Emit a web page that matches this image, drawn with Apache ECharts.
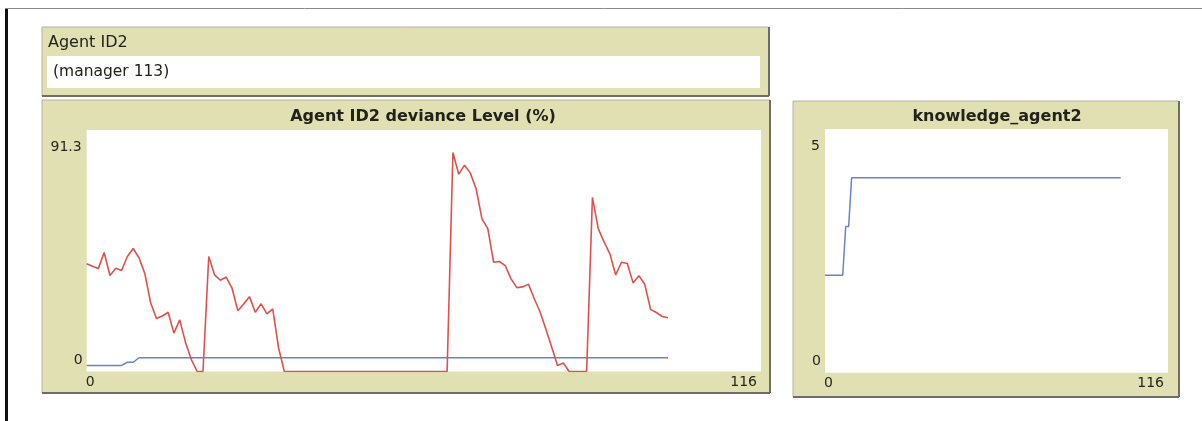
<!DOCTYPE html>
<html>
<head>
<meta charset="utf-8">
<script src="https://cdn.jsdelivr.net/npm/echarts@6/dist/echarts.min.js"></script>
<style>
html, body { margin: 0; padding: 0; background: #fff; }
#main { width: 1202px; height: 421px; }
</style>
</head>
<body>
<div id="main"></div>
<script>
// monitor
var monitorLabel = "Agent ID2";
var monitorValue = "(manager 113)";

// plot titles
var title1 = "Agent ID2 deviance Level (%)";
var title2 = "knowledge_agent2";

// axis ranges / tick labels
var xTicks = [0, 116];
var yTicks1 = [0, 91.3];
var yTicks2 = [0, 5];

// deviance level, ticks 0..100 (red)
var deviance = [
  40.7, 39.8, 38.9, 45.0, 36.3, 39.0, 38.2, 43.5, 46.5, 43.0,
  37.0, 26.0, 20.0, 21.0, 22.4, 14.5, 19.5, 11.0, 4.5, 0,
  0, 43.5, 36.5, 34.5, 35.7, 31.5, 23.0, 25.5, 28.3, 22.4,
  25.6, 21.8, 23.7, 9.0, 0, 0, 0, 0, 0, 0,
  0, 0, 0, 0, 0, 0, 0, 0, 0, 0,
  0, 0, 0, 0, 0, 0, 0, 0, 0, 0,
  0, 0, 0, 82.8, 74.6, 78.0, 75.0, 69.0, 57.7, 54.0,
  41.3, 41.6, 40.0, 35.0, 31.7, 32.0, 33.0, 27.5, 22.5, 16.0,
  9.2, 2.3, 3.2, 0, 0, 0, 0, 65.8, 54.0, 49.0,
  44.5, 36.5, 41.3, 40.8, 33.5, 36.2, 33.0, 23.5, 22.3, 20.8,
  20.3
];

// second pen in deviance plot (blue)
var devianceKnow = [
  2.3, 2.3, 2.3, 2.3, 2.3, 2.3, 2.3, 3.5, 3.5, 5.2,
  5.2, 5.2, 5.2, 5.2, 5.2, 5.2, 5.2, 5.2, 5.2, 5.2,
  5.2, 5.2, 5.2, 5.2, 5.2, 5.2, 5.2, 5.2, 5.2, 5.2,
  5.2, 5.2, 5.2, 5.2, 5.2, 5.2, 5.2, 5.2, 5.2, 5.2,
  5.2, 5.2, 5.2, 5.2, 5.2, 5.2, 5.2, 5.2, 5.2, 5.2,
  5.2, 5.2, 5.2, 5.2, 5.2, 5.2, 5.2, 5.2, 5.2, 5.2,
  5.2, 5.2, 5.2, 5.2, 5.2, 5.2, 5.2, 5.2, 5.2, 5.2,
  5.2, 5.2, 5.2, 5.2, 5.2, 5.2, 5.2, 5.2, 5.2, 5.2,
  5.2, 5.2, 5.2, 5.2, 5.2, 5.2, 5.2, 5.2, 5.2, 5.2,
  5.2, 5.2, 5.2, 5.2, 5.2, 5.2, 5.2, 5.2, 5.2, 5.2,
  5.2
];

// knowledge_agent2
var knowledge = [
  2, 2, 2, 2, 2, 2, 2, 3, 3, 4,
  4, 4, 4, 4, 4, 4, 4, 4, 4, 4,
  4, 4, 4, 4, 4, 4, 4, 4, 4, 4,
  4, 4, 4, 4, 4, 4, 4, 4, 4, 4,
  4, 4, 4, 4, 4, 4, 4, 4, 4, 4,
  4, 4, 4, 4, 4, 4, 4, 4, 4, 4,
  4, 4, 4, 4, 4, 4, 4, 4, 4, 4,
  4, 4, 4, 4, 4, 4, 4, 4, 4, 4,
  4, 4, 4, 4, 4, 4, 4, 4, 4, 4,
  4, 4, 4, 4, 4, 4, 4, 4, 4, 4,
  4
];

function pairs(arr) {
  return arr.map(function (v, i) { return [i, v]; });
}

var khaki = "#e0e0b3";
var txt = "#22221a";
var numFont = "14px 'DejaVu Sans'";

// box with bevel (light top/left, dark bottom/right)
function box(id, x, y, w, h) {
  return [
    { type: "rect", id: id, shape: { x: x, y: y, width: w, height: h },
      style: { fill: khaki, stroke: "#b4b4a4", lineWidth: 1 } },
    { type: "line", id: id + "_b", shape: { x1: x, y1: y + h, x2: x + w, y2: y + h },
      style: { stroke: "#6e6e66", lineWidth: 2 } },
    { type: "line", id: id + "_r", shape: { x1: x + w, y1: y, x2: x + w, y2: y + h },
      style: { stroke: "#6e6e66", lineWidth: 2 } }
  ];
}

var myChart = echarts.init(document.getElementById("main"));

var graphics = []
  .concat([
    { type: "rect", id: "frameL", shape: { x: 5, y: 8, width: 3, height: 413 }, style: { fill: "#111" } },
    { type: "line", id: "frameT", shape: { x1: 5, y1: 8.5, x2: 1202, y2: 8.5 }, style: { stroke: "#8a8a8a", lineWidth: 1 } }
  ])
  .concat(box("mon", 42, 27, 727, 69))
  .concat([
    { type: "rect", id: "monField", shape: { x: 47, y: 56, width: 713, height: 32 }, style: { fill: "#fff" } },
    { type: "text", id: "monLabel", x: 48, y: 43, style: { text: monitorLabel, font: "16px 'DejaVu Sans'", fill: txt, verticalAlign: "middle" } },
    { type: "text", id: "monValue", x: 53, y: 72, style: { text: monitorValue, font: "15.5px 'DejaVu Sans'", fill: txt, verticalAlign: "middle" } }
  ])
  .concat(box("p1", 42, 100, 728, 293))
  .concat(box("p2", 793, 101, 386, 296))
  .concat([
    { type: "rect", id: "p1bg", shape: { x: 86.7, y: 130, width: 674.3, height: 241.5 }, style: { fill: "#fff" } },
    { type: "rect", id: "p2bg", shape: { x: 825, y: 129, width: 343, height: 243.7 }, style: { fill: "#fff" } },
    { type: "text", id: "t1", x: 423, y: 117, style: { text: title1, font: "bold 16px 'DejaVu Sans'", fill: txt, align: "center", verticalAlign: "middle" } },
    { type: "text", id: "t2", x: 997, y: 117, style: { text: title2, font: "bold 16px 'DejaVu Sans'", fill: txt, align: "center", verticalAlign: "middle" } }
  ]);

var option = {
  backgroundColor: "#fff",
  animation: false,
  graphic: { elements: graphics },
  grid: [
    { left: 86.7, top: 130, width: 674.3, height: 241.5, show: false },
    { left: 825, top: 129, width: 343, height: 243.7, show: false }
  ],
  xAxis: [
    { type: "value", gridIndex: 0, min: xTicks[0], max: xTicks[1], show: false },
    { type: "value", gridIndex: 1, min: xTicks[0], max: xTicks[1], show: false }
  ],
  yAxis: [
    { type: "value", gridIndex: 0, min: yTicks1[0], max: yTicks1[1], show: false },
    { type: "value", gridIndex: 1, min: yTicks2[0], max: yTicks2[1], show: false }
  ],
  series: [
    { type: "line", xAxisIndex: 0, yAxisIndex: 0, data: pairs(devianceKnow), showSymbol: false,
      lineStyle: { color: "#6684c8", width: 1.5 }, z: 3 },
    { type: "line", xAxisIndex: 0, yAxisIndex: 0, data: pairs(deviance), showSymbol: false,
      lineStyle: { color: "#e0514c", width: 1.6 }, z: 4 },
    { type: "line", xAxisIndex: 1, yAxisIndex: 1, data: pairs(knowledge), showSymbol: false,
      lineStyle: { color: "#6684c8", width: 1.5 } }
  ]
};
myChart.setOption(option);

// tick labels, NetLogo style, placed from the axis scales
function tickLabels(gi, yTicks, pre) {
  var pMin = myChart.convertToPixel({ gridIndex: gi }, [xTicks[0], yTicks[0]]);
  var pMax = myChart.convertToPixel({ gridIndex: gi }, [xTicks[1], yTicks[1]]);
  var st = function (t, align) {
    return { text: String(t), font: numFont, fill: "#26261e", align: align, verticalAlign: "middle" };
  };
  return [
    { type: "text", id: pre + "ymax", x: pMin[0] - 5, y: pMax[1] + 17, style: st(yTicks[1], "right") },
    { type: "text", id: pre + "ymin", x: pMin[0] - 4, y: pMin[1] - 11, style: st(yTicks[0], "right") },
    { type: "text", id: pre + "xmin", x: pMin[0] - 1, y: pMin[1] + 11, style: st(xTicks[0], "left") },
    { type: "text", id: pre + "xmax", x: pMax[0] - 4, y: pMin[1] + 11, style: st(xTicks[1], "right") }
  ];
}

myChart.setOption({
  graphic: { elements: graphics.concat(tickLabels(0, yTicks1, "a")).concat(tickLabels(1, yTicks2, "b")) }
});

window.addEventListener("resize", function () {
  myChart.resize();
});
</script>
</body>
</html>
